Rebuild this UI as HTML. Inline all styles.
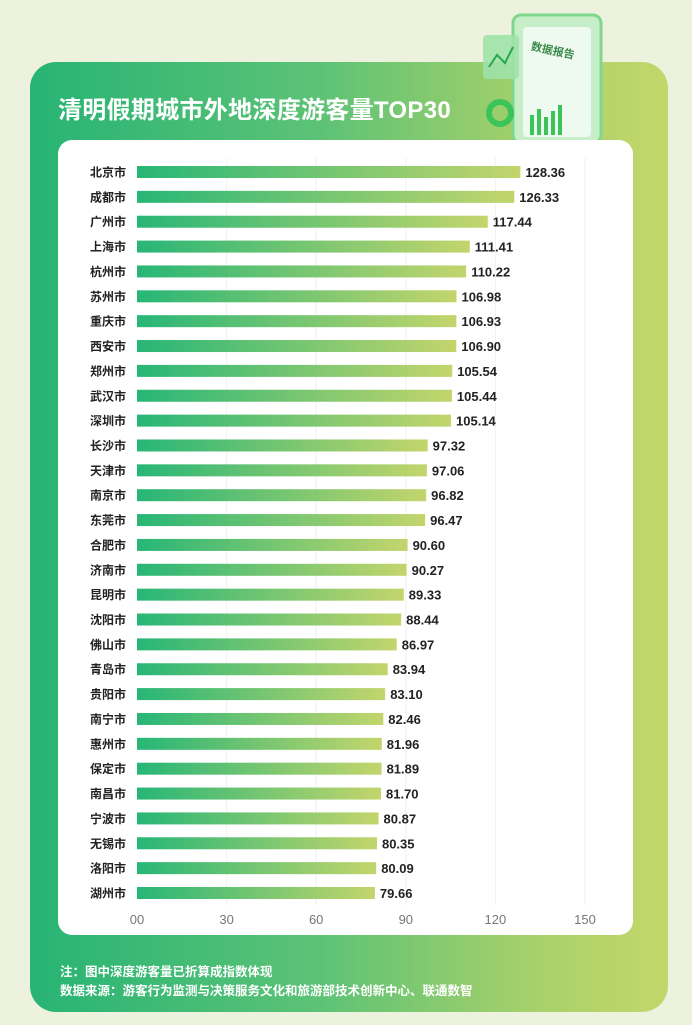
<!DOCTYPE html>
<html><head><meta charset="utf-8"><style>
body{margin:0;width:692px;height:1025px;overflow:hidden;background:#edf2de;font-family:"Liberation Sans","Noto Sans CJK SC",sans-serif;position:relative}
#card{position:absolute;left:30px;top:62px;width:638px;height:950px;border-radius:26px;background:linear-gradient(90deg,#27b474 0%,#5cc276 45%,#a9d16a 80%,#c3d76a 100%)}
#title{position:absolute;left:58px;top:90px;color:#fff;font-size:24px;font-weight:bold;letter-spacing:0.3px}
#panel{position:absolute;left:58px;top:140px;width:575px;height:795px;background:#fff;border-radius:14px}
.note{position:absolute;left:60px;color:#fff;font-size:12.5px;font-weight:bold}
#deco{position:absolute;left:475px;top:5px}
</style></head><body>
<div id="card"></div>
<svg id="deco" width="150" height="140">
<rect x="38" y="10" width="88" height="128" rx="8" fill="#c6efc9" stroke="#7fd88a" stroke-width="3"/>
<rect x="48" y="22" width="68" height="110" rx="4" fill="#eefaef"/>
<text x="55" y="50" font-size="11" font-weight="bold" fill="#3a8a4a" transform="rotate(12 80 50)" font-family="Liberation Sans,Noto Sans CJK SC,sans-serif">数据报告</text>
<g fill="#3cc45a"><rect x="55" y="110" width="4" height="20"/><rect x="62" y="104" width="4" height="26"/><rect x="69" y="112" width="4" height="18"/><rect x="76" y="106" width="4" height="24"/><rect x="83" y="100" width="4" height="30"/></g>
<rect x="8" y="30" width="36" height="44" rx="4" fill="#9fe2a8" opacity="0.9"/>
<polyline points="14,62 22,50 30,58 38,42" fill="none" stroke="#2aa84a" stroke-width="2"/>
<circle cx="25" cy="108" r="11" fill="none" stroke="#3cc45a" stroke-width="6"/>
</svg>
<div id="title">清明假期城市外地深度游客量TOP30</div>
<div id="panel"></div>
<svg id="chart" width="692" height="1025" style="position:absolute;left:0;top:0">
<defs><linearGradient id="bg" x1="0" x2="1" y1="0" y2="0"><stop offset="0" stop-color="#27b677"/><stop offset="1" stop-color="#c3d56c"/></linearGradient></defs>
</svg>
<div class="note" style="top:961px">注：图中深度游客量已折算成指数体现</div>
<div class="note" style="top:980px">数据来源：游客行为监测与决策服务文化和旅游部技术创新中心、联通数智</div>
<script>
const cities=["北京市","成都市","广州市","上海市","杭州市","苏州市","重庆市","西安市","郑州市","武汉市","深圳市","长沙市","天津市","南京市","东莞市","合肥市","济南市","昆明市","沈阳市","佛山市","青岛市","贵阳市","南宁市","惠州市","保定市","南昌市","宁波市","无锡市","洛阳市","湖州市"];
const values=[128.36,126.33,117.44,111.41,110.22,106.98,106.93,106.90,105.54,105.44,105.14,97.32,97.06,96.82,96.47,90.60,90.27,89.33,88.44,86.97,83.94,83.10,82.46,81.96,81.89,81.70,80.87,80.35,80.09,79.66];
const ticks=[0,30,60,90,120,150];
const tickLabels=["00","30","60","90","120","150"];
const svg=document.getElementById('chart');const NS="http://www.w3.org/2000/svg";
const x=v=>137+v*(585-137)/150;
const y=i=>172+i*(893-172)/29;
function mk(t,a){const e=document.createElementNS(NS,t);for(const k in a)e.setAttribute(k,a[k]);svg.appendChild(e);return e;}
ticks.forEach((t,i)=>{
 if(i>0){const g=mk('line',{x1:x(t),x2:x(t),y1:158,y2:905,stroke:'#f0f0f0','stroke-width':1});
 
 }
 const l=mk('text',{x:x(t),y:924,'text-anchor':'middle','font-size':13,fill:'#777'});l.textContent=tickLabels[i];
 
 
});
cities.forEach((c,i)=>{
 const cy=y(i);
 const r=mk('rect',{x:x(0),y:cy-6,width:x(values[i])-x(0),height:12,fill:'url(#bg)'});
 
 
 const n=mk('text',{x:126,y:cy+4.5,'text-anchor':'end','font-size':12,'font-weight':'bold',fill:'#222'});n.textContent=c;
 
 
 const v=mk('text',{x:x(values[i])+5,y:cy+5,'font-size':13,'font-weight':'bold',fill:'#222'});v.textContent=values[i].toFixed(2);
 
 
});
</script>
</body></html>
